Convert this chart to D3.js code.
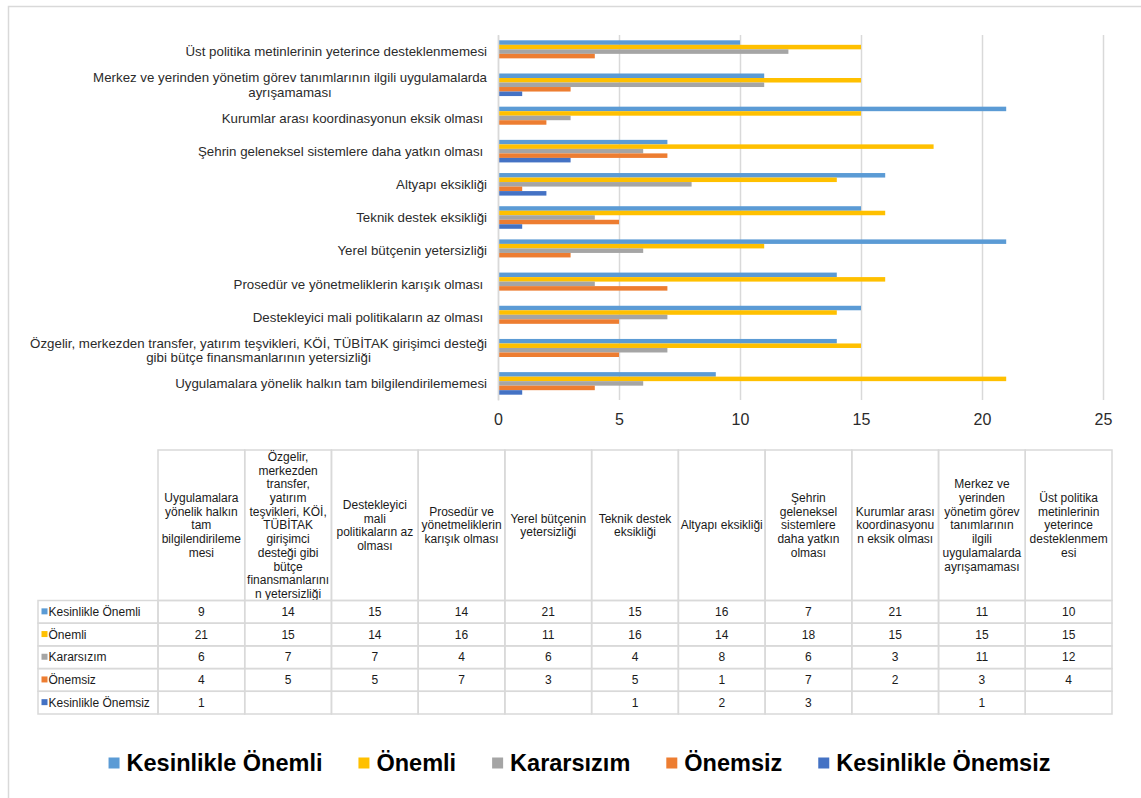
<!DOCTYPE html>
<html>
<head>
<meta charset="utf-8">
<script src="https://cdn.jsdelivr.net/npm/d3@7"></script>
<style>
  body { margin: 0; background: #fff; }
  svg text { font-family: "Liberation Sans", Arial, sans-serif; white-space: pre; }
</style>
</head>
<body>
<svg id="chart" width="1141" height="798"></svg>
<script>
// Categories in table order (bottom-to-top in the bar chart)
const categories = [
  "Uygulamalara yönelik halkın tam bilgilendirilememesi",
  "Özgelir, merkezden transfer, yatırım teşvikleri, KÖİ, TÜBİTAK girişimci desteği gibi bütçe finansmanlarının yetersizliği",
  "Destekleyici mali politikaların az olması ",
  "Prosedür ve yönetmeliklerin karışık olması ",
  "Yerel bütçenin yetersizliği",
  "Teknik destek eksikliği",
  "Altyapı eksikliği",
  "Şehrin geleneksel sistemlere daha yatkın olması ",
  "Kurumlar arası koordinasyonun eksik olması ",
  "Merkez ve yerinden yönetim görev tanımlarının ilgili uygulamalarda ayrışamaması",
  "Üst politika metinlerinin yeterince desteklenmemesi"
];

// Column headings of the data table, as they wrap inside their cells
const tableHeaderLines = [
  ["Uygulamalara", "yönelik halkın", "tam", "bilgilendirileme", "mesi"],
  ["Özgelir,", "merkezden", "transfer,", "yatırım", "teşvikleri, KÖİ,", "TÜBİTAK", "girişimci", "desteği gibi", "bütçe", "finansmanlarını", "n yetersizliği"],
  ["Destekleyici", "mali", "politikaların az", "olması"],
  ["Prosedür ve", "yönetmeliklerin", "karışık olması"],
  ["Yerel bütçenin", "yetersizliği"],
  ["Teknik destek", "eksikliği"],
  ["Altyapı eksikliği"],
  ["Şehrin", "geleneksel", "sistemlere", "daha yatkın", "olması"],
  ["Kurumlar arası", "koordinasyonu", "n eksik olması"],
  ["Merkez ve", "yerinden", "yönetim görev", "tanımlarının", "ilgili", "uygulamalarda", "ayrışamaması"],
  ["Üst politika", "metinlerinin", "yeterince", "desteklenmem", "esi"]
];

const seriesNames = ["Kesinlikle Önemli", "Önemli", "Kararsızım", "Önemsiz", "Kesinlikle Önemsiz"];
const seriesColors = ["#5B9BD5", "#FFC000", "#A5A5A5", "#ED7D31", "#4472C4"];

const kesinlikleOnemli   = [9, 14, 15, 14, 21, 15, 16, 7, 21, 11, 10];
const onemli             = [21, 15, 14, 16, 11, 16, 14, 18, 15, 15, 15];
const kararsizim         = [6, 7, 7, 4, 6, 4, 8, 6, 3, 11, 12];
const onemsiz            = [4, 5, 5, 7, 3, 5, 1, 7, 2, 3, 4];
const kesinlikleOnemsiz  = [1, null, null, null, null, 1, 2, 3, null, 1, null];

const xTicks = [0, 5, 10, 15, 20, 25];

const seriesValues = [kesinlikleOnemli, onemli, kararsizim, onemsiz, kesinlikleOnemsiz];

const svg = d3.select("#chart");
const GRID = "#d9d9d9";
const TEXT = "#2b2b2b";
const FONT = "'Liberation Sans', Arial, sans-serif";

// Chart-area frame (left and top edges)
svg.append("path")
  .attr("d", "M8.5,798 V6.5 H1141")
  .attr("fill", "none").attr("stroke", GRID).attr("stroke-width", 1.5);

// ---------- Bar chart ----------
const plot = { left: 498, right: 1103, top: 35, bottom: 400 };

const x = d3.scaleLinear().domain([0, 25]).range([plot.left, plot.right]);
const y = d3.scaleBand()
  .domain(categories.slice().reverse())
  .range([plot.top, plot.bottom])
  .paddingInner(0.32).paddingOuter(0.16);
const ySeries = d3.scaleBand().domain(seriesNames).range([0, y.bandwidth()]);

// Vertical gridlines + tick labels
const xAxis = svg.append("g")
  .attr("transform", `translate(0,${plot.bottom})`)
  .call(d3.axisBottom(x).tickValues(xTicks)
    .tickSize(-(plot.bottom - plot.top)).tickSizeOuter(0).tickPadding(14));
xAxis.select(".domain").remove();
xAxis.selectAll(".tick line").attr("stroke", GRID).attr("stroke-width", 1.5);
xAxis.selectAll(".tick text")
  .attr("fill", TEXT).style("font-size", "16px").style("font-family", FONT);

// Bars
const barData = [];
categories.forEach((c, ci) => {
  seriesNames.forEach((s, si) => {
    const v = seriesValues[si][ci];
    if (v != null) barData.push({ c, s, v, color: seriesColors[si] });
  });
});
svg.append("g").selectAll("rect").data(barData).join("rect")
  .attr("x", x(0))
  .attr("y", d => y(d.c) + ySeries(d.s))
  .attr("width", d => x(d.v) - x(0))
  .attr("height", ySeries.bandwidth())
  .attr("fill", d => d.color);

// Category axis
const yAxis = svg.append("g")
  .attr("transform", `translate(${plot.left},0)`)
  .call(d3.axisLeft(y).tickSize(0).tickPadding(11));
yAxis.select(".domain").attr("stroke", GRID).attr("stroke-width", 1.5);
yAxis.selectAll(".tick text")
  .attr("fill", TEXT).style("font-size", "13.3px").style("font-family", FONT);

// Wrap long category labels; lines are centred on one another and the block is right-aligned
const maxLabelWidth = 472;
const lineH = 14.5;
yAxis.selectAll(".tick text").each(function(d) {
  const t = d3.select(this);
  const words = d.split(" ");
  const lines = [];
  let cur = "";
  t.text("");
  const probe = t.append("tspan");
  words.forEach(w => {
    const test = cur ? cur + " " + w : w;
    probe.text(test);
    if (probe.node().getComputedTextLength() > maxLabelWidth && cur) {
      lines.push(cur);
      cur = w;
    } else cur = test;
  });
  lines.push(cur);
  const widths = lines.map(l => { probe.text(l); return probe.node().getComputedTextLength(); });
  probe.remove();
  const maxW = d3.max(widths);
  const x0 = +t.attr("x");
  t.attr("dy", null);
  lines.forEach((l, i) => {
    t.append("tspan")
      .attr("x", x0 - (maxW - widths[i]) / 2)
      .attr("y", (i - (lines.length - 1) / 2) * lineH)
      .attr("dy", "0.35em")
      .text(l);
  });
});

// ---------- Data table ----------
const table = { left: 38, colStart: 158, right: 1112, headTop: 450, headBottom: 600.5, bottom: 714 };
const col = d3.scaleBand().domain(categories).range([table.colStart, table.right]);
const row = d3.scaleBand().domain(seriesNames).range([table.headBottom, table.bottom]);
const TABLE_FS = "12px";
const TABLE_TEXT = "#1a1a1a";

const tg = svg.append("g");

// Header cells
tg.selectAll("rect.head").data(categories).join("rect")
  .attr("class", "head")
  .attr("x", d => col(d)).attr("y", table.headTop)
  .attr("width", col.bandwidth()).attr("height", table.headBottom - table.headTop)
  .attr("fill", "none").attr("stroke", GRID).attr("stroke-width", 1.5);

const headLineH = 13.7;
const headMid = (table.headTop + table.headBottom) / 2;
categories.forEach((c, ci) => {
  const lines = tableHeaderLines[ci];
  const txt = tg.append("text")
    .attr("text-anchor", "middle").attr("fill", TABLE_TEXT).style("font-size", TABLE_FS);
  lines.forEach((l, i) => {
    txt.append("tspan")
      .attr("x", col(c) + col.bandwidth() / 2)
      .attr("y", headMid + (i - (lines.length - 1) / 2) * headLineH)
      .attr("dy", "0.35em")
      .text(l);
  });
});

// Row header cells, value cells
seriesNames.forEach((s, si) => {
  tg.append("rect")
    .attr("x", table.left).attr("y", row(s))
    .attr("width", table.colStart - table.left).attr("height", row.bandwidth())
    .attr("fill", "none").attr("stroke", GRID).attr("stroke-width", 1.5);
  tg.append("rect")
    .attr("x", table.left + 3.5).attr("y", row(s) + row.bandwidth() / 2 - 3.5)
    .attr("width", 6).attr("height", 6).attr("fill", seriesColors[si]);
  tg.append("text")
    .attr("x", table.left + 10.5).attr("y", row(s) + row.bandwidth() / 2)
    .attr("dy", "0.35em").attr("fill", TABLE_TEXT).style("font-size", TABLE_FS)
    .text(s);

  categories.forEach((c, ci) => {
    tg.append("rect")
      .attr("x", col(c)).attr("y", row(s))
      .attr("width", col.bandwidth()).attr("height", row.bandwidth())
      .attr("fill", "none").attr("stroke", GRID).attr("stroke-width", 1.5);
    const v = seriesValues[si][ci];
    if (v != null) {
      tg.append("text")
        .attr("x", col(c) + col.bandwidth() / 2).attr("y", row(s) + row.bandwidth() / 2)
        .attr("dy", "0.35em").attr("text-anchor", "middle")
        .attr("fill", TABLE_TEXT).style("font-size", TABLE_FS)
        .text(v);
    }
  });
});

// ---------- Legend ----------
const legendCenter = 579.5;
const legendY = 763;
const sq = 11, gapSq = 7, gapItem = 36;
const lg = svg.append("g");
const items = seriesNames.map((s, i) => {
  const g = lg.append("g");
  g.append("rect").attr("width", sq).attr("height", sq).attr("y", -sq / 2).attr("fill", seriesColors[i]);
  const t = g.append("text")
    .attr("x", sq + gapSq).attr("dy", "0.36em")
    .attr("fill", "#000").style("font-size", "23.5px").style("font-weight", "bold")
    .text(s);
  return { g, w: sq + gapSq + t.node().getComputedTextLength() };
});
const totalW = d3.sum(items, d => d.w) + gapItem * (items.length - 1);
let lx = legendCenter - totalW / 2;
items.forEach(it => {
  it.g.attr("transform", `translate(${lx},${legendY})`);
  lx += it.w + gapItem;
});
</script>
</body>
</html>
